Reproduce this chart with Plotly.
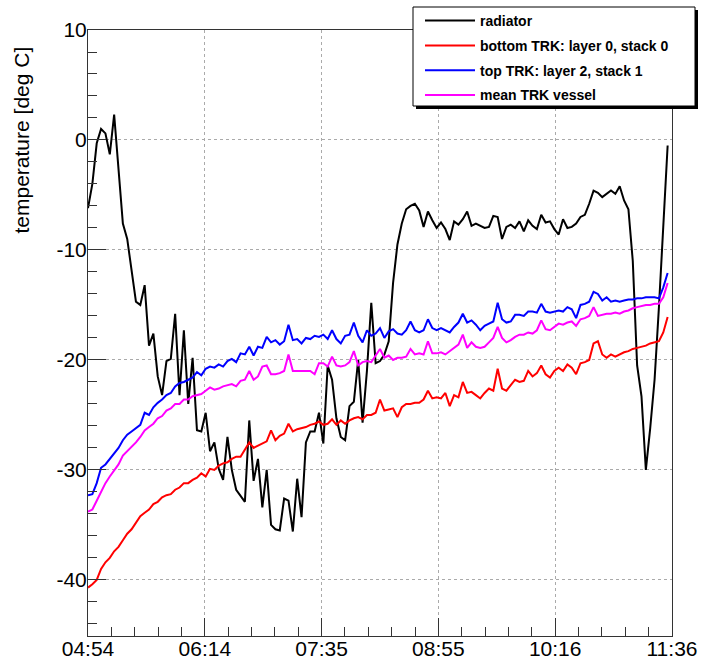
import pandas as pd
import plotly.graph_objects as go

# Sampling of the slow-control log
START = "2010-06-01 04:54:00"
END = "2010-06-01 11:36:00"
STEP_MIN = 3

radiator = [
    -6.2, -4.0, -0.3, 1.0, 0.6, -1.3, 2.3, -2.8, -7.6, -9.0,
    -11.8, -14.7, -15.0, -13.2, -18.7, -17.6, -21.5, -23.2, -20.1, -19.9,
    -15.8, -23.2, -17.3, -24.0, -19.8, -26.4, -26.5, -24.8, -28.3, -27.5,
    -29.9, -30.9, -27.0, -30.0, -31.8, -32.4, -32.9, -25.5, -31.0, -29.0,
    -33.4, -30.0, -35.0, -35.4, -35.5, -32.6, -32.8, -35.6, -30.8, -34.3,
    -27.5, -26.5, -26.5, -24.8, -27.6, -20.5, -21.8, -25.3, -27.0, -27.3,
    -24.2, -23.8, -20.0, -25.7, -21.0, -14.8, -20.3, -20.1, -19.5, -18.3,
    -13.0, -9.5, -7.6, -6.3, -6.0, -5.8, -6.4, -7.9, -6.5, -7.3,
    -8.0, -7.5, -8.1, -9.1, -7.4, -7.7, -7.2, -6.5, -7.8, -7.6,
    -7.8, -8.0, -7.9, -6.9, -7.0, -9.0, -7.9, -7.7, -8.0, -7.4,
    -8.3, -7.3, -7.8, -8.1, -6.8, -7.5, -7.4, -8.1, -8.6, -7.2,
    -8.0, -7.9, -7.6, -7.0, -6.8, -5.8, -4.6, -4.8, -5.2, -4.9,
    -4.6, -4.9, -4.2, -5.5, -6.3, -11.0, -20.5, -23.3, -30.0, -26.2,
    -21.8, -15.2, -8.1, -0.5,
]

bottom_trk = [
    -40.7, -40.4, -40.0, -39.0, -38.4, -38.0, -37.4, -37.0, -36.4, -35.8,
    -35.4, -34.8, -34.2, -33.9, -33.6, -33.1, -32.9, -32.5, -32.3, -32.2,
    -31.8, -31.6, -31.2, -31.2, -30.9, -30.7, -30.3, -30.6, -29.9, -30.0,
    -29.6, -29.4, -29.3, -29.0, -28.8, -28.8, -28.2, -27.5, -28.0, -27.8,
    -27.6, -27.4, -26.4, -27.3, -26.9, -26.7, -25.8, -26.5, -26.3, -26.2,
    -26.1, -25.9, -25.8, -25.6, -25.9, -25.8, -25.4, -25.9, -25.5, -25.8,
    -25.5, -25.3, -25.2, -25.4, -25.0, -25.0, -24.8, -23.6, -24.6, -24.5,
    -24.4, -25.2, -24.3, -24.0, -24.0, -23.9, -23.9, -23.6, -22.8, -23.5,
    -23.4, -23.5, -23.0, -24.2, -23.2, -23.4, -22.0, -23.0, -22.9, -23.2,
    -23.5, -23.0, -22.6, -22.8, -20.8, -22.6, -22.8, -22.3, -21.8, -22.0,
    -21.9, -21.0, -21.5, -21.2, -20.5, -21.3, -21.6, -21.0, -20.7, -21.0,
    -20.4, -20.7, -21.3, -20.3, -20.2, -20.0, -18.5, -18.3, -19.5, -19.8,
    -19.5, -19.7, -19.5, -19.3, -19.2, -19.0, -18.9, -18.8, -18.7, -18.5,
    -18.4, -18.3, -17.5, -16.1,
]

top_trk = [
    -32.3, -32.2, -31.2, -29.8, -29.5, -29.0, -28.5, -28.0, -27.3, -26.8,
    -26.5, -26.2, -25.9, -24.8, -25.0, -24.3, -23.9, -23.6, -23.2, -23.0,
    -22.4, -22.1, -22.0, -21.8, -21.6, -21.1, -21.4, -20.8, -20.6, -20.7,
    -20.4, -20.6, -20.1, -19.9, -20.2, -19.4, -19.5, -18.8, -19.6, -18.8,
    -18.9, -17.9, -18.4, -18.2, -18.6, -18.3, -16.8, -18.2, -18.1, -18.5,
    -18.0, -18.1, -17.8, -17.9, -17.7, -18.1, -17.3, -18.1, -18.5, -17.8,
    -17.7, -16.6, -17.8, -18.4, -17.3, -17.8, -17.6, -17.1, -18.0, -17.4,
    -17.2, -17.6, -17.7, -17.3, -16.5, -17.3, -17.5, -17.3, -16.3, -17.1,
    -17.3, -17.1, -17.3, -17.5, -17.0, -16.6, -15.8, -16.6, -16.4, -16.8,
    -17.3, -16.9, -16.7, -16.5, -14.8, -16.3, -16.6, -16.5, -15.9, -15.9,
    -16.0, -15.6, -15.6, -15.7, -14.9, -15.6, -15.7, -15.6, -15.5, -15.6,
    -15.2, -15.4, -16.2, -15.0, -14.9, -14.7, -13.8, -14.0, -14.6, -14.3,
    -14.7, -14.6, -14.7, -14.6, -14.5, -14.5, -14.4, -14.4, -14.3, -14.3,
    -14.3, -14.4, -13.4, -12.1,
]

mean_vessel = [
    -33.8, -33.6, -32.8, -32.0, -31.2, -30.6, -30.1, -29.5, -28.7, -28.3,
    -27.9, -27.5, -27.0, -26.4, -26.1, -25.8, -25.3, -25.1, -24.6, -24.4,
    -24.0, -24.0, -23.6, -23.6, -23.3, -23.2, -23.1, -22.8, -22.5, -22.7,
    -22.6, -22.4, -22.3, -22.2, -22.4, -21.9, -21.8, -21.0, -21.8, -21.5,
    -20.6, -20.5, -21.3, -21.3, -21.2, -21.0, -19.5, -21.0, -21.0, -21.0,
    -21.0, -21.0, -21.3, -20.3, -20.3, -20.6, -19.7, -20.5, -20.6, -20.5,
    -20.2, -19.2, -20.5, -20.2, -20.1, -20.2, -19.6, -19.0, -19.8, -19.6,
    -20.0, -19.8, -19.8, -19.7, -19.0, -19.5, -19.4, -19.5, -18.3, -19.4,
    -19.4, -19.3, -19.5, -19.2, -18.9, -18.6, -17.7, -18.9, -18.4, -18.8,
    -18.9, -18.8, -18.4, -18.0, -17.0, -18.0, -18.4, -18.2, -17.9, -17.7,
    -17.7, -17.5, -17.6, -17.3, -16.4, -17.2, -17.3, -17.0, -16.7, -16.8,
    -16.6, -16.5, -16.9, -16.3, -16.2, -16.0, -15.2, -16.0, -15.9, -15.8,
    -15.8, -15.7, -15.8, -15.6, -15.5, -15.3, -15.2, -15.1, -15.0, -15.0,
    -14.9, -14.9, -14.3, -13.0,
]

series_names = [
    "radiator",
    "bottom TRK: layer 0, stack 0",
    "top TRK: layer 2, stack 1",
    "mean TRK vessel",
]
series_values = [radiator, bottom_trk, top_trk, mean_vessel]
series_colors = ["#000000", "#ff0000", "#0000ff", "#ff00ff"]

tick_labels = ["04:54", "06:14", "07:35", "08:55", "10:16", "11:36"]

times = pd.date_range(START, periods=len(radiator), freq=f"{STEP_MIN}min")

t0 = pd.Timestamp(START)
t1 = pd.Timestamp(END)
span = t1 - t0
major_ticks = [t0 + span * i / 5 for i in range(6)]
minor_ticks = [t0 + span * i / 25 for i in range(26)]

FONT = "Liberation Sans, Arial, Helvetica, sans-serif"

fig = go.Figure()
for i, (name, vals, col) in enumerate(zip(series_names, series_values, series_colors)):
    fig.add_trace(go.Scatter(
        x=times, y=vals, mode="lines", name=name,
        line=dict(color=col, width=2),
        legendgroup=f"g{i}",
    ))

# canvas geometry (pixels)
W, H = 703, 664
L, R, T, B = 88, 31, 30, 28
pw, ph = W - L - R, H - T - B


def px(xp):
    return (xp - L) / pw


def py(yp):
    return (H - B - yp) / ph


axis_common = dict(
    showline=True, linecolor="#333333", linewidth=1, mirror=True,
    ticks="inside", tickcolor="#333333", tickwidth=1,
    showgrid=True, gridcolor="#aaaaaa", griddash="dot", gridwidth=1,
    zeroline=False, automargin=False,
    tickfont=dict(family=FONT, size=21, color="#000000"),
)

fig.update_layout(
    width=W, height=H,
    margin=dict(l=L, r=R, t=T, b=B, autoexpand=False),
    paper_bgcolor="white", plot_bgcolor="white",
    xaxis=dict(
        range=[t0, t1], tickmode="array", tickvals=major_ticks, ticktext=tick_labels,
        ticklen=18, ticklabelstandoff=-6,
        minor=dict(tickmode="array", tickvals=minor_ticks, ticklen=9,
                   ticks="inside", tickcolor="#333333", showgrid=False),
        **axis_common,
    ),
    yaxis=dict(
        range=[-45.1, 10], tickmode="array", tickvals=[-40, -30, -20, -10, 0, 10],
        ticktext=["-40", "-30", "-20", "-10", "0", "10"],
        ticklen=18, ticklabelstandoff=-4,
        minor=dict(dtick=2, tick0=0, ticklen=9, ticks="inside",
                   tickcolor="#333333", showgrid=False),
        **axis_common,
    ),
    showlegend=True,
    legend=dict(
        x=px(420), y=py(5), xanchor="left", yanchor="top",
        bgcolor="rgba(0,0,0,0)", borderwidth=0,
        font=dict(family=FONT, size=14, color="#000000", weight="bold"),
        itemwidth=50, tracegroupgap=3.6,
    ),
    annotations=[dict(
        text="temperature [deg C]", textangle=-90,
        xref="paper", yref="paper", x=px(21), y=py(45),
        xanchor="center", yanchor="top", showarrow=False,
        font=dict(family=FONT, size=21, color="#000000"),
    )],
    shapes=[
        # legend drop shadow and box
        dict(type="rect", xref="paper", yref="paper",
             x0=px(416), x1=px(698), y0=py(109), y1=py(10),
             fillcolor="#000000", line=dict(width=0), layer="above"),
        dict(type="rect", xref="paper", yref="paper",
             x0=px(413), x1=px(695), y0=py(106), y1=py(7),
             fillcolor="#ffffff", line=dict(color="#000000", width=1), layer="above"),
    ],
)

fig.write_html("out.html")
